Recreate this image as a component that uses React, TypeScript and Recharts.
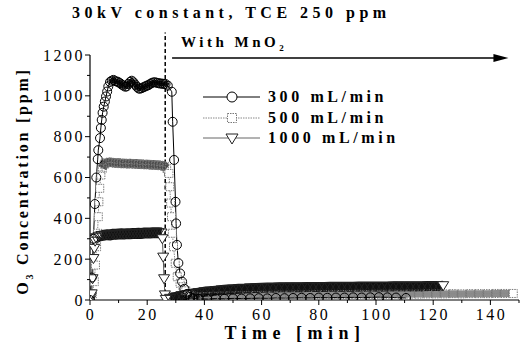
import React from 'react';
import { LineChart, Line, XAxis, YAxis, ReferenceLine } from 'recharts';

// time [min], O3 [ppm]
const flow300: [number, number][] = [
  [0, 0], [0.6, 110], [1.2, 300], [1.7, 470], [2.2, 600], [2.7, 690], [2.9, 734], [3.5, 793], [3.8, 843],
  [4.1, 882], [4.4, 917], [4.8, 947], [5.2, 972], [5.6, 997], [6, 1021], [6.4, 1046], [7, 1068],
  [7.6, 1074], [8.2, 1078], [8.8, 1072], [9.4, 1070], [9.9, 1067], [10.5, 1062], [11.1, 1055],
  [11.7, 1050], [12.3, 1045], [12.8, 1046], [13.4, 1058], [14, 1068], [14.6, 1074], [15.2, 1066],
  [15.8, 1055], [16.4, 1044], [17, 1036], [17.5, 1035], [18.1, 1038], [18.7, 1042], [19.3, 1046],
  [19.9, 1050], [20.4, 1052], [21, 1058], [21.6, 1063], [22.2, 1066], [22.8, 1066], [23.4, 1064],
  [24, 1062], [24.6, 1060], [25.2, 1060], [25.8, 1058], [26.4, 1058], [27.2, 1050],
  [28.6, 1020], [28.9, 873], [29.4, 686], [29.9, 481], [30.1, 375], [30.4, 270], [30.9, 181],
  [31.5, 130], [32.2, 90], [33, 55], [34, 30], [35, 15], [36, 8],
  [38, 6], [41, 5], [44, 7], [47, 6], [50, 8], [53, 7], [56, 8], [59, 9], [62, 8], [65, 10],
  [68, 9], [71, 10], [74, 11], [77, 10], [80, 12], [83, 11], [86, 12], [89, 12], [92, 13],
  [95, 12], [98, 13], [101, 14], [104, 13], [107, 12], [110.5, 10],
];

const flow500: [number, number][] = [
  [0, 0], [0.8, 30], [1.5, 90], [1.9, 171], [2.3, 261], [2.6, 327], [2.9, 408], [3.1, 481],
  [3.4, 547], [3.8, 612], [4.3, 645], [5, 665], [6, 672], [7, 675], [8, 673], [9, 670], [10, 672],
  [11, 668], [12, 670], [13, 667], [14, 669], [15, 666], [16, 668], [17, 664], [18, 666],
  [19, 663], [20, 665], [21, 662], [22, 663], [23, 660], [24, 661], [25, 658], [26, 655],
  [26.8, 645], [27.6, 620], [27.9, 555], [28.2, 475], [28.5, 408], [28.8, 327], [29.2, 261],
  [29.8, 180], [30.5, 114], [31.5, 82], [32.5, 65], [33.5, 45], [34.5, 30], [35.5, 20], [37, 15],
  [40, 16], [43, 18], [46, 19], [49, 20], [52, 21], [55, 21], [58, 22], [61, 23], [64, 23],
  [67, 24], [70, 24], [73, 25], [76, 25], [79, 26], [82, 26], [85, 26], [88, 27], [91, 27],
  [94, 28], [97, 27], [100, 28], [103, 28], [106, 29], [109, 28], [112, 29], [115, 29], [118, 30],
  [121, 30], [124, 30], [127, 31], [130, 30], [133, 31], [136, 31], [139, 31], [142, 32],
  [145, 32], [148, 32],
];

const flow1000: [number, number][] = [
  [0, 0], [0.3, 15], [0.6, 30], [0.9, 104], [1.2, 203], [1.5, 253], [1.8, 288], [2.1, 305],
  [3, 312], [4, 316], [5, 318], [6, 320], [7, 319], [8, 322], [9, 322], [10, 323], [11, 324],
  [12, 323], [13, 325], [14, 325], [15, 326], [16, 326], [17, 327], [18, 326], [19, 328],
  [20, 328], [21, 328], [22, 329], [23, 330], [24, 330], [25, 328],
  [25.3, 300], [25.6, 210], [25.9, 104], [26.2, 25], [26.5, 3],
  [28, 8], [30, 15], [32, 21], [34, 27], [36, 32], [38, 36], [40, 40], [42, 43], [44, 46],
  [46, 49], [48, 51], [50, 53], [52, 55], [54, 56], [56, 58], [58, 59], [60, 60], [62, 61],
  [64, 61], [66, 62], [68, 62], [70, 63], [72, 63], [74, 63], [76, 64], [78, 64], [80, 64],
  [82, 64], [84, 65], [86, 65], [88, 65], [90, 65], [92, 65], [94, 66], [96, 66], [98, 66],
  [100, 66], [102, 66], [104, 66], [106, 67], [108, 67], [110, 67], [112, 67], [114, 67],
  [116, 67], [118, 68], [120, 68], [122, 68], [123.5, 70],
];

const xTicks = [0, 10, 20, 30, 40, 50, 60, 70, 80, 90, 100, 110, 120, 130, 140, 150];
const yTicks = [0, 100, 200, 300, 400, 500, 600, 700, 800, 900, 1000, 1100, 1200];
const seriesNames = ['300 mL/min', '500 mL/min', '1000 mL/min'];

const toPts = (a: [number, number][]) => a.map(([t, v]) => ({ t, v }));

const serif = '"Liberation Serif", "DejaVu Serif", serif';

// time spans where the samples are so dense that they merge into a band
const band500 = (t: number) => (t >= 4.3 && t <= 26.8) || (t >= 34.5 && t < 148);
const band1000 = (t: number) => (t >= 2.1 && t <= 25) || (t >= 28 && t < 123.5);

const CircleDot = (p: any) =>
  p.cx == null ? null : (
    <circle key={`c-${p.index}`} cx={p.cx} cy={p.cy} r={4.5} fill="none" stroke="#000" strokeWidth={1} />
  );

const SquareDot = (p: any) =>
  p.cx == null ? null : (
    <rect key={`s-${p.index}`} x={p.cx - 4} y={p.cy - 4} width={8} height={8}
      fill={band500(p.payload.t) ? 'none' : '#fff'}
      stroke="#777" strokeWidth={1} strokeDasharray="1.5 1" />
  );

const TriDot = (p: any) =>
  p.cx == null ? null : (
    <path key={`t-${p.index}`} d={`M${p.cx - 5.5},${p.cy - 4} L${p.cx + 5.5},${p.cy - 4} L${p.cx},${p.cy + 5} Z`}
      fill={band1000(p.payload.t) ? 'none' : '#fff'} stroke="#222" strokeWidth={1} />
  );

const YTick = ({ x, y, payload }: any) => {
  const major = payload.value % 200 === 0;
  return (
    <g>
      <line x1={x} x2={x - (major ? 5 : 3)} y1={y} y2={y} stroke="#000" />
      {major && (
        <text x={x - 5} y={y} dy="0.35em" textAnchor="end" fontFamily={serif} fontSize={16}
          letterSpacing={2.5} fill="#000">{payload.value}</text>
      )}
    </g>
  );
};

const XTick = ({ x, y, payload }: any) => {
  const major = payload.value % 20 === 0;
  return (
    <g>
      <line x1={x} x2={x} y1={y} y2={y + (major ? 5 : 3)} stroke="#000" />
      {major && (
        <text x={x + 1} y={y + 20} textAnchor="middle" fontFamily={serif} fontSize={16}
          letterSpacing={2.5} fill="#000">{payload.value}</text>
      )}
    </g>
  );
};

const Arrow = (p: any) => (
  <g>
    <line x1={p.x1} y1={p.y1} x2={p.x2 - 12} y2={p.y2} stroke="#000" strokeWidth={1.5} />
    <polygon points={`${p.x2},${p.y2} ${p.x2 - 15},${p.y2 - 4} ${p.x2 - 15},${p.y2 + 4}`} fill="#000" />
  </g>
);

const legendIcons = [
  (cx: number, cy: number) => <circle cx={cx} cy={cy} r={5} fill="#fff" stroke="#000" />,
  (cx: number, cy: number) => (
    <rect x={cx - 4.5} y={cy - 4.5} width={9} height={9} fill="#fff" stroke="#777" strokeDasharray="1.5 1" />
  ),
  (cx: number, cy: number) => (
    <path d={`M${cx - 6},${cy - 4} L${cx + 6},${cy - 4} L${cx},${cy + 6} Z`} fill="#fff" stroke="#222" />
  ),
];
const legendLine = ['#000', '#888', '#666'];

const LegendBox = () => (
  <div style={{ position: 'absolute', left: 203, top: 87 }}>
    {seriesNames.map((n, i) => (
      <div key={n} style={{ display: 'flex', alignItems: 'center', height: 20.5 }}>
        <svg width={60} height={16}>
          <line x1={0} x2={57} y1={8} y2={8} stroke={legendLine[i]} strokeWidth={1}
            strokeDasharray={i === 1 ? '1.5 1' : undefined} />
          {legendIcons[i](29, 8)}
        </svg>
        <span style={{ fontFamily: serif, fontWeight: 'bold', fontSize: 16, letterSpacing: 3.6, marginLeft: 5,
          whiteSpace: 'nowrap' }}>
          {n}
        </span>
      </div>
    ))}
  </div>
);

export default function App() {
  const d300 = toPts(flow300);
  const d500 = toPts(flow500);
  const d1000 = toPts(flow1000);
  const plateau300 = d300.filter((p) => p.t >= 7 && p.t <= 27.2);
  const plateau500 = d500.filter((p) => p.t >= 4.3 && p.t <= 26.8);
  const tail500 = d500.filter((p) => p.t >= 34.5);
  const plateau1000 = d1000.filter((p) => p.t >= 2.1 && p.t <= 25);
  const tail1000 = d1000.filter((p) => p.t >= 28);
  return (
    <div style={{ position: 'absolute', left: 0, top: 0, width: 524, height: 347, background: '#fff' }}>
      <div style={{ position: 'absolute', left: 72, top: 4, fontFamily: serif, fontWeight: 'bold',
        fontSize: 16, letterSpacing: 4.5, whiteSpace: 'nowrap' }}>
        30kV constant, TCE 250 ppm
      </div>
      <div style={{ position: 'absolute', left: 181, top: 34, fontFamily: serif, fontWeight: 'bold',
        fontSize: 15, letterSpacing: 3.5, whiteSpace: 'nowrap', zIndex: 2 }}>
        With MnO<span style={{ fontSize: 9, position: 'relative', top: 4 }}>2</span>
      </div>
      <LineChart width={524} height={347} margin={{ top: 55, right: 5, bottom: 17, left: 30 }}>
        <XAxis dataKey="t" type="number" domain={[0, 150]} ticks={xTicks} interval={0}
          allowDataOverflow height={30} tickSize={0} tickMargin={0} tick={<XTick />}
          axisLine={{ stroke: '#000', strokeWidth: 1.2 }} tickLine={false}
          label={{
            content: () => (
              <text x={295} y={339} textAnchor="middle" fontFamily={serif} fontWeight="bold" fontSize={18}
                letterSpacing={5.5} fill="#000">Time [min]</text>
            ),
          }} />
        <YAxis type="number" domain={[0, 1200]} ticks={yTicks} interval={0} width={60}
          allowDataOverflow tickSize={0} tickMargin={0} tick={<YTick />}
          axisLine={{ stroke: '#000', strokeWidth: 1.2 }} tickLine={false}
          label={{
            content: () => (
              <text x={22} y={181} transform="rotate(-90, 22, 181)" textAnchor="middle" dy="0.35em"
                fontFamily={serif} fontWeight="bold" fontSize={16} letterSpacing={2.8} fill="#000">
                O<tspan fontSize={10} dy={5}>3</tspan><tspan dy={-5}> Concentration [ppm]</tspan>
              </text>
            ),
          }} />
        <ReferenceLine segment={[{ x: 26.3, y: 0 }, { x: 26.3, y: 1310 }]} ifOverflow="visible"
          stroke="#000" strokeWidth={1.5} strokeDasharray="4 2.5" />
        <ReferenceLine segment={[{ x: 28.7, y: 1185 }, { x: 146.3, y: 1185 }]} ifOverflow="visible"
          shape={Arrow} />
        {/* dense sampling shows up as solid bands */}
        <Line data={tail500} dataKey="v" type="linear" stroke="#8c8c8c" strokeWidth={7} dot={false}
          activeDot={false} isAnimationActive={false} legendType="none" />
        <Line data={plateau500} dataKey="v" type="linear" stroke="#4a4a4a" strokeWidth={9} dot={false}
          activeDot={false} isAnimationActive={false} legendType="none" />
        <Line data={d500} dataKey="v" name={seriesNames[1]} type="linear" stroke="#888"
          strokeWidth={1} strokeDasharray="1.5 1" dot={SquareDot} activeDot={false} isAnimationActive={false} />
        <Line data={d1000} dataKey="v" name={seriesNames[2]} type="linear" stroke="#555"
          strokeWidth={1} dot={TriDot} activeDot={false} isAnimationActive={false} />
        <Line data={plateau1000} dataKey="v" type="linear" stroke="#111" strokeWidth={11} dot={false}
          activeDot={false} isAnimationActive={false} legendType="none" />
        <Line data={tail1000} dataKey="v" type="linear" stroke="#111" strokeWidth={10} dot={false}
          activeDot={false} isAnimationActive={false} legendType="none" />
        <Line data={plateau300} dataKey="v" type="linear" stroke="#222" strokeWidth={5} dot={false}
          activeDot={false} isAnimationActive={false} legendType="none" />
        <Line data={d300} dataKey="v" name={seriesNames[0]} type="linear" stroke="#000"
          strokeWidth={1} dot={CircleDot} activeDot={false} isAnimationActive={false} />
      </LineChart>
      <LegendBox />
    </div>
  );
}
